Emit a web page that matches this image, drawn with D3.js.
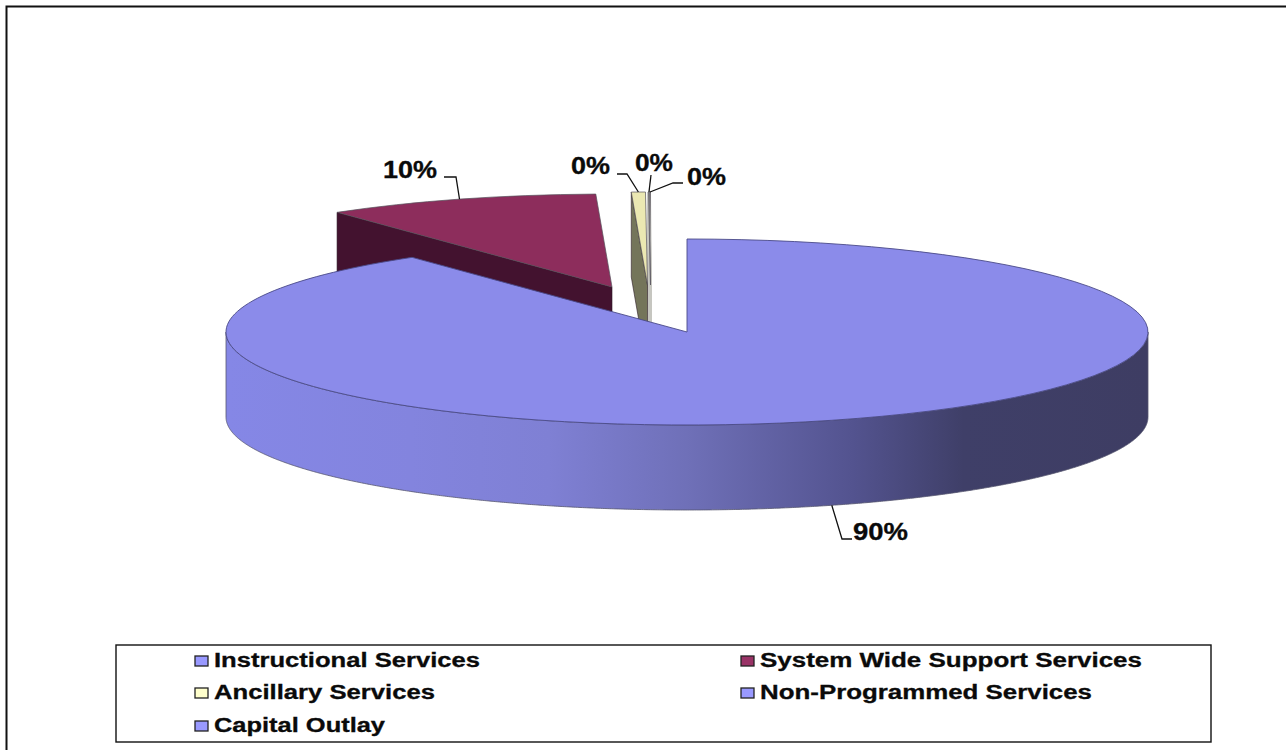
<!DOCTYPE html>
<html>
<head>
<meta charset="utf-8">
<style>
  html, body { margin: 0; padding: 0; background: #fff; }
  svg { display: block; }
  text { font-family: "Liberation Sans", Arial, sans-serif; font-weight: 700; fill: #0a0a0a; stroke: #0a0a0a; stroke-width: 0.3; }
</style>
<script src="https://d3js.org/d3.v7.min.js"></script>
</head>
<body>
<svg id="chart" width="1286" height="750"></svg>
<script>
// Budget shares by service area, in percent
const categories = ["Instructional Services", "System Wide Support Services", "Ancillary Services", "Non-Programmed Services", "Capital Outlay"];
const shares = [89.83, 9.61, 0.49, 0.035, 0.035];
const topColors = ["#8b8bea", "#8d2d5c", "#ebe8b2", "#c6c6c0", "#c6c6c0"];
const wallColors = ["#6e6eb5", "#43122f", "#74755a", "#c6c6c0", "#c6c6c0"];
const legendColors = ["#9999ff", "#993366", "#ffffcc", "#9999ff", "#9999ff"];

// Pie geometry: flattened ellipse, extruded downward, slices pulled out by hand
const rx = 461, ry = 93, depth = 85;
const centers = [[687, 332], [612, 287], [647.5, 285], [650.5, 285], [650.5, 285]];

// Legend layout: two columns, three rows
const legendCols = [{ swatch: 195, text: 214 }, { swatch: 741, text: 760 }];
const legendRowsBase = [667, 699, 732];
const legendWidths = [266, 382, 221, 332, 171];

// Data label placement: where each label sits and its leader elbow
const labelPos = [
  { x: 853, y: 540, w: 55, elbow: [[842, 539], [852, 539]] },
  { x: 383, y: 178, w: 54, elbow: [[456, 177], [444, 177]] },
  { x: 571, y: 174, w: 39, elbow: [[627, 174], [617, 174]] },
  { x: 635, y: 171, w: 38, elbow: [[651, 175]] },
  { x: 687, y: 185, w: 39, elbow: [[673, 183], [683, 183]] }
];
const sideGradientStops = [
  [0, "#8587e6"], [0.2, "#8384de"], [0.35, "#7f80d4"], [0.5, "#6f70b8"],
  [0.68, "#53538f"], [0.8, "#3f3f68"], [1, "#3e3d63"]
];

const svg = d3.select("#chart");

// Chart frame: only its top and left rules fall inside the page
svg.append("path").attr("d", "M6.5,750V6.5H1286").attr("fill", "none").attr("stroke", "#111").attr("stroke-width", 2);

const defs = svg.append("defs");
const grad = defs.append("linearGradient").attr("id", "sideShade")
  .attr("gradientUnits", "userSpaceOnUse")
  .attr("x1", centers[0][0] - rx).attr("x2", centers[0][0] + rx).attr("y1", 0).attr("y2", 0);
sideGradientStops.forEach(s => grad.append("stop").attr("offset", s[0]).attr("stop-color", s[1]));

const pie = d3.pie().sort(null).value(d => d);
const slices = pie(shares);
const arc = d3.arc().innerRadius(0).outerRadius(rx);

// Point on a slice's rim for a pie angle, optionally dropped to the base
const rim = (i, a, drop = 0) => [
  centers[i][0] + rx * Math.sin(a),
  centers[i][1] - ry * Math.cos(a) + drop
];

const line = d3.line();

// Far slices are painted first so the large one covers them
d3.range(slices.length - 1, -1, -1).forEach(i => {
  const s = slices[i];
  const g = svg.append("g");
  const [cx, cy] = centers[i];

  if (i > 0) {
    // Cut face on the slice's leading edge
    g.append("path")
      .attr("d", line([rim(i, s.startAngle), [cx, cy], [cx, cy + depth], rim(i, s.startAngle, depth)]) + "Z")
      .attr("fill", wallColors[i])
      .attr("stroke", i > 2 ? wallColors[i] : "#2a1a24")
      .attr("stroke-width", i > 2 ? 3 : 0.6);
  } else {
    // Outer rim facing the viewer, from the right extreme round to the left
    const a0 = Math.PI / 2, a1 = 3 * Math.PI / 2;
    const angles = d3.range(a0, a1, 0.005).concat(a1);
    const lower = angles.map(a => rim(i, a, depth));
    const upper = angles.slice().reverse().map(a => rim(i, a));
    g.append("path")
      .attr("d", line(lower.concat(upper)) + "Z")
      .attr("fill", "url(#sideShade)")
      .attr("stroke", "#55556f")
      .attr("stroke-width", 0.8);
  }

  g.append("path")
    .attr("d", arc(s))
    .attr("transform", `translate(${cx},${cy}) scale(1,${ry / rx})`)
    .attr("fill", topColors[i])
    .attr("stroke", i === 0 ? "#4a4a88" : "#55505a")
    .attr("stroke-width", i === 0 ? 0.9 : 0.7)
    .attr("vector-effect", "non-scaling-stroke");
});

// Leader lines and percentage labels
slices.forEach((s, i) => {
  const mid = (s.startAngle + s.endAngle) / 2;
  const start = i === 0 ? rim(i, mid, depth) : rim(i, mid);
  const pts = [start].concat(labelPos[i].elbow);
  svg.append("path")
    .attr("d", line(pts))
    .attr("fill", "none")
    .attr("stroke", "#111")
    .attr("stroke-width", 1.3);
  svg.append("text")
    .attr("x", labelPos[i].x)
    .attr("y", labelPos[i].y)
    .attr("font-size", 23)
    .attr("textLength", labelPos[i].w)
    .attr("lengthAdjust", "spacingAndGlyphs")
    .text(Math.round(s.data) + "%");
});

// Legend box and entries
svg.append("rect")
  .attr("x", 116).attr("y", 645).attr("width", 1095).attr("height", 97)
  .attr("fill", "#fff").attr("stroke", "#111").attr("stroke-width", 1.4);

categories.forEach((name, i) => {
  const col = legendCols[i % 2];
  const base = legendRowsBase[Math.floor(i / 2)];
  svg.append("rect")
    .attr("x", col.swatch).attr("y", base - 11).attr("width", 13).attr("height", 10)
    .attr("fill", legendColors[i]).attr("stroke", "#222").attr("stroke-width", 1.3);
  svg.append("text")
    .attr("x", col.text).attr("y", base)
    .attr("font-size", 20)
    .attr("textLength", legendWidths[i])
    .attr("lengthAdjust", "spacingAndGlyphs")
    .text(name);
});
</script>
</body>
</html>
